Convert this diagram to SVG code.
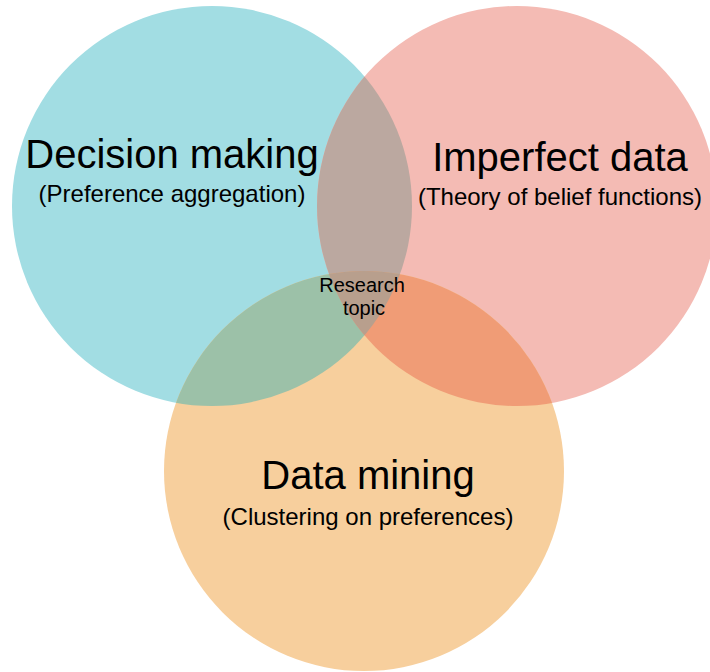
<svg xmlns="http://www.w3.org/2000/svg" width="710" height="672" viewBox="0 0 710 672">
  <style>
    .title { font-family: "Liberation Sans", Arial, sans-serif; font-size: 40px; fill: #000; text-anchor: middle; }
    .sub { font-family: "Liberation Sans", Arial, sans-serif; font-size: 24px; fill: #000; text-anchor: middle; }
    .small { font-family: "Liberation Sans", Arial, sans-serif; font-size: 20px; fill: #000; text-anchor: middle; }
  </style>
  <defs>
    <clipPath id="clipT"><circle cx="212" cy="206" r="200"/></clipPath>
    <clipPath id="clipS"><circle cx="517" cy="206" r="200"/></clipPath>
  </defs>
  <rect width="710" height="672" fill="#ffffff"/>
  <g id="decision-making">
    <circle cx="212" cy="206" r="200" fill="#a2dde3"/>
  </g>
  <g id="imperfect-data">
    <circle cx="517" cy="206" r="200" fill="#f4bbb4"/>
  </g>
  <g id="data-mining">
    <circle cx="364" cy="471" r="200" fill="#f7cf9d"/>
  </g>
  <g id="overlaps">
    <circle cx="517" cy="206" r="200" fill="#bba8a0" clip-path="url(#clipT)"/>
    <circle cx="364" cy="471" r="200" fill="#9cc1a8" clip-path="url(#clipT)"/>
    <circle cx="364" cy="471" r="200" fill="#f09c76" clip-path="url(#clipS)"/>
    <g clip-path="url(#clipS)">
      <circle cx="364" cy="471" r="200" fill="#b89f8d" clip-path="url(#clipT)"/>
    </g>
  </g>
  <g id="labels">
    <text class="title" x="172" y="168">Decision making</text>
    <text class="sub" x="172" y="202">(Preference aggregation)</text>
    <text class="title" x="560" y="171">Imperfect data</text>
    <text class="sub" x="560" y="205">(Theory of belief functions)</text>
    <text class="title" x="368" y="489">Data mining</text>
    <text class="sub" x="368" y="525">(Clustering on preferences)</text>
  </g>
  <g id="research-topic">
    <text class="small" x="362" y="292">Research</text>
    <text class="small" x="364" y="315">topic</text>
  </g>
</svg>
